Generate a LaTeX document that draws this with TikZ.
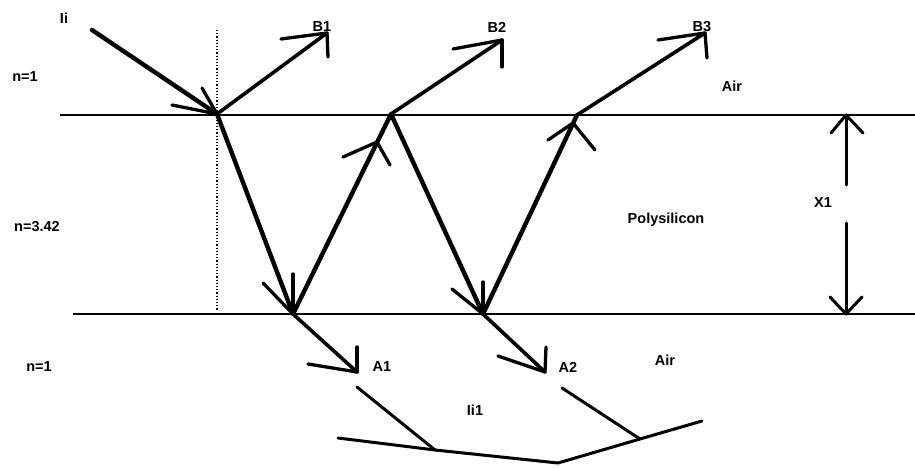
\documentclass[tikz,border=0pt]{standalone}
\usepackage{fontspec}
\setmainfont{Liberation Sans}
\begin{document}
\begin{tikzpicture}[x=1pt,y=-1pt,
  lab/.style={font=\fontsize{14.5}{16}\selectfont\bfseries, inner sep=0pt},
  ray/.style={line width=4.4pt, line cap=round, line join=round},
  outray/.style={line width=3.6pt, line cap=round},
  barb/.style={line width=3.3pt, line cap=round},
  surf/.style={line width=2.1pt},
  thin/.style={line width=3pt, line cap=round, line join=round}]
\useasboundingbox (0,0) rectangle (915,468);
% surfaces
\coordinate (T0) at (60,115);
\coordinate (T1) at (915,115);
\coordinate (Bt0) at (73,314);
\coordinate (Bt1) at (915,314);
\draw[surf] (T0) -- (T1);
\draw[surf] (Bt0) -- (Bt1);
% normal
\coordinate (N0) at (217,30);
\coordinate (N1) at (217,310);
\draw[line width=1.2pt, dotted] (N0) -- (N1);
% ray points
\coordinate (P0) at (92,30);
\coordinate (S1) at (217,114);
\coordinate (D1) at (293,314);
\coordinate (S2) at (391,114);
\coordinate (D2) at (483,314);
\coordinate (S3) at (577,115);
\coordinate (B1) at (327,33);
\coordinate (B2) at (502,40);
\coordinate (B3) at (705,33);
\coordinate (A1) at (357,372);
\coordinate (A2) at (545,372);
\coordinate (U1) at (377,142);
\coordinate (U2) at (573,123);
% rays
\draw[ray] (P0) -- (S1) -- (D1) -- (S2) -- (D2) -- (S3);
\draw[outray] (S1) -- (B1);
\draw[outray] (S2) -- (B2);
\draw[outray] (S3) -- (B3);
\draw[outray] (D1) -- (A1);
\draw[outray] (D2) -- (A2);
% arrow barbs
\draw[barb] (S1) -- +(-45,-9);
\draw[barb] (S1) -- +(-15,-26);
\draw[barb] (B1) -- +(-46,6);
\draw[barb] (B1) -- +(1,24);
\draw[barb] (B2) -- +(-49,9);
\draw[barb] (B2) -- +(0,27);
\draw[barb] (B3) -- +(-47,7);
\draw[barb] (B3) -- +(2,25);
\draw[barb] (D1) -- +(-30,-31);
\draw[barb] (D1) -- +(0,-40);
\draw[barb] (D2) -- +(-31,-25);
\draw[barb] (D2) -- +(0,-32);
\draw[barb] (A1) -- +(-49,-8);
\draw[barb] (A1) -- +(0,-25);
\draw[barb] (A2) -- +(-47,-16);
\draw[barb] (A2) -- +(1,-25);
\draw[barb] (U1) -- +(-34,15);
\draw[barb] (U1) -- +(13,23);
\draw[barb] (U2) -- +(-25,17);
\draw[barb] (U2) -- +(22,27);
% thickness arrow
\coordinate (X0) at (846,115);
\coordinate (X0e) at (846,185);
\coordinate (X1s) at (846,223);
\coordinate (X1) at (846,314);
\draw[thin] (X0) -- (X0e);
\draw[thin] (X1s) -- (X1);
\draw[thin] (X0) -- +(-15,18);
\draw[thin] (X0) -- +(17,18);
\draw[thin] (X1) -- +(-16,-17);
\draw[thin] (X1) -- +(16,-17);
% transmitted sum
\coordinate (L1) at (338,438);
\coordinate (L2) at (435,450);
\coordinate (L3) at (558,463);
\coordinate (L4) at (640,439);
\coordinate (L5) at (702,421);
\coordinate (M1) at (357,387);
\coordinate (M2) at (562,388);
\draw[thin] (L1) -- (L2) -- (L3) -- (L4) -- (L5);
\draw[thin] (L2) -- (M1);
\draw[thin] (L4) -- (M2);
% labels
\node[lab] (tIi) at (64,18) {Ii};
\node[lab] (tB1) at (322,27) {B1};
\node[lab] (tB2) at (497,27) {B2};
\node[lab] (tB3) at (702,27) {B3};
\node[lab] (tAirT) at (732,86) {Air};
\node[lab] (tn1) at (25,77) {n=1};
\node[lab] (tn342) at (37,227) {n=3.42};
\node[lab] (tPoly) at (666,220) {Polysilicon};
\node[lab] (tX1) at (823,203) {X1};
\node[lab] (tn1b) at (39,367) {n=1};
\node[lab] (tA1) at (382,367) {A1};
\node[lab] (tA2) at (568,367) {A2};
\node[lab] (tAirB) at (665,360) {Air};
\node[lab] (tIi1) at (475,410) {Ii1};
\end{tikzpicture}
\end{document}
